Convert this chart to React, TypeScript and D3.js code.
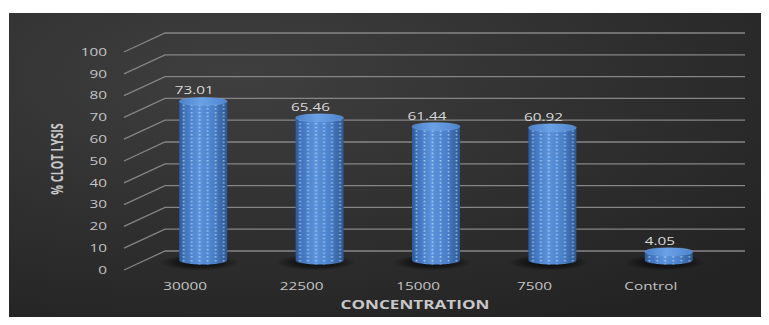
import React from "react";
import * as d3 from "d3";

// Clot lysis (%) by concentration
const categories: string[] = ["30000", "22500", "15000", "7500", "Control"];
const lysisValues: number[] = [73.01, 65.46, 61.44, 60.92, 4.05];
const valueLabels: string[] = ["73.01", "65.46", "61.44", "60.92", "4.05"];
const yTicks: number[] = [0, 10, 20, 30, 40, 50, 60, 70, 80, 90, 100];

const W = 769;
const H = 325;
const FONT = "'Open Sans', 'DejaVu Sans', sans-serif";

// 3D projection: depth offset from front plane to back wall
const DEPTH_DX = 41;
const DEPTH_DY = -19;
const BAR_DX = 18;
const BAR_DY = -9.5;
const RX = 24;
const RY = 4;
const SX = 1.5; // horizontal text stretch

function StretchText(props: {
  x: number;
  y: number;
  sx?: number;
  anchor?: "start" | "middle" | "end";
  size: number;
  weight?: number | string;
  fill: string;
  children: React.ReactNode;
}) {
  const { x, y, sx = SX, anchor = "middle", size, weight = 400, fill, children } = props;
  return (
    <g transform={`translate(${x},${y}) scale(${sx},1)`}>
      <text
        x={0}
        y={0}
        textAnchor={anchor}
        fontFamily={FONT}
        fontSize={size}
        fontWeight={weight}
        fill={fill}
      >
        {children}
      </text>
    </g>
  );
}

export default function App() {
  const x = d3.scaleBand<string>().domain(categories).range([127, 709]).padding(0);
  const yFront = d3.scaleLinear().domain([0, 100]).range([270, 52]);
  const yBar = d3.scaleLinear().domain([0, 100]).range([270 + BAR_DY, 52 + BAR_DY]);

  const axisX0 = 124;
  const backX0 = axisX0 + DEPTH_DX;
  const backX1 = 745;

  return (
    <div style={{ width: W, height: H, margin: -8 }}>
      <svg width={W} height={H} style={{ display: "block" }}>
        <defs>
          <radialGradient id="bg" cx="0.3" cy="0.2" r="0.9">
            <stop offset="0" stopColor="#3f3f3f" />
            <stop offset="0.6" stopColor="#2e2e2e" />
            <stop offset="1" stopColor="#232323" />
          </radialGradient>
          <linearGradient id="cyl" x1="0" x2="1" y1="0" y2="0">
            <stop offset="0" stopColor="#2d5a98" />
            <stop offset="0.12" stopColor="#3f74bd" />
            <stop offset="0.4" stopColor="#5a92dc" />
            <stop offset="0.7" stopColor="#4a82cc" />
            <stop offset="1" stopColor="#2c5793" />
          </linearGradient>
          <linearGradient id="cylTop" x1="0" x2="1" y1="0" y2="0">
            <stop offset="0" stopColor="#4a80c8" />
            <stop offset="0.45" stopColor="#6ba2e6" />
            <stop offset="1" stopColor="#4d84cd" />
          </linearGradient>
          <radialGradient id="shadow" cx="0.5" cy="0.5" r="0.5">
            <stop offset="0" stopColor="#000" stopOpacity={0.75} />
            <stop offset="0.6" stopColor="#000" stopOpacity={0.45} />
            <stop offset="1" stopColor="#000" stopOpacity={0} />
          </radialGradient>
          {categories.map((c, i) => {
            const cx = (x(c) as number) + x.bandwidth() / 2 + BAR_DX;
            return (
              <pattern
                key={c}
                id={`dots-${i}`}
                patternUnits="userSpaceOnUse"
                width={8}
                height={3.7}
                x={cx - RX + 1}
                y={0}
              >
                <rect x={2.6} y={1} width={1.8} height={1.3} fill="#ffffff" fillOpacity={0.6} />
              </pattern>
            );
          })}
        </defs>

        {/* chart area */}
        <rect x={9} y={13} width={W - 9} height={H - 13} fill="url(#bg)" />

        {/* gridlines: diagonal side wall + back wall */}
        <g stroke="#858585" strokeWidth={1.3} fill="none">
          {yTicks.map((t) => {
            const yf = yFront(t);
            const yb = yf + DEPTH_DY;
            return (
              <path
                key={t}
                d={`M${axisX0},${yf} L${backX0},${yb} L${backX1},${yb}`}
              />
            );
          })}
        </g>

        {/* y tick labels */}
        {yTicks.map((t) => (
          <StretchText
            key={t}
            x={107}
            y={yFront(t) + 3.8}
            anchor="end"
            size={10.2}
            fill="#c4c4c4"
          >
            {t}
          </StretchText>
        ))}

        {/* cylinders */}
        {categories.map((c, i) => {
          const v = lysisValues[i];
          const cx = (x(c) as number) + x.bandwidth() / 2 + BAR_DX;
          const yB = yBar(0);
          const yT = yBar(v);
          const body = `M${cx - RX},${yT} L${cx - RX},${yB} A${RX},${RY} 0 0 0 ${cx + RX},${yB} L${cx + RX},${yT} Z`;
          return (
            <g key={c}>
              <ellipse cx={cx - 4} cy={yB + 2} rx={40} ry={8} fill="url(#shadow)" />
              <path d={body} fill="url(#cyl)" />
              <path d={body} fill={`url(#dots-${i})`} />
              <ellipse cx={cx} cy={yT} rx={RX} ry={RY} fill="url(#cylTop)" stroke="#7eb0ec" strokeOpacity={0.5} strokeWidth={0.6} />
              <StretchText
                x={cx - 9}
                y={yT - RY - 3}
                size={10.2}
                fill="#d8d8d8"
              >
                {valueLabels[i]}
              </StretchText>
            </g>
          );
        })}

        {/* x tick labels */}
        {categories.map((c) => (
          <StretchText
            key={c}
            x={(x(c) as number) + x.bandwidth() / 2}
            y={290}
            size={10.2}
            fill="#c4c4c4"
          >
            {c}
          </StretchText>
        ))}

        {/* axis titles */}
        <StretchText x={415} y={309} sx={1.36} size={12.6} weight={700} fill="#c8c8c8">
          CONCENTRATION
        </StretchText>
        <g transform={`translate(63,159) rotate(-90) scale(1.08,1.55)`}>
          <text
            x={0}
            y={0}
            textAnchor="middle"
            fontFamily={FONT}
            fontSize={10}
            fontWeight={700}
            fill="#c8c8c8"
          >
            % CLOT LYSIS
          </text>
        </g>
      </svg>
    </div>
  );
}
